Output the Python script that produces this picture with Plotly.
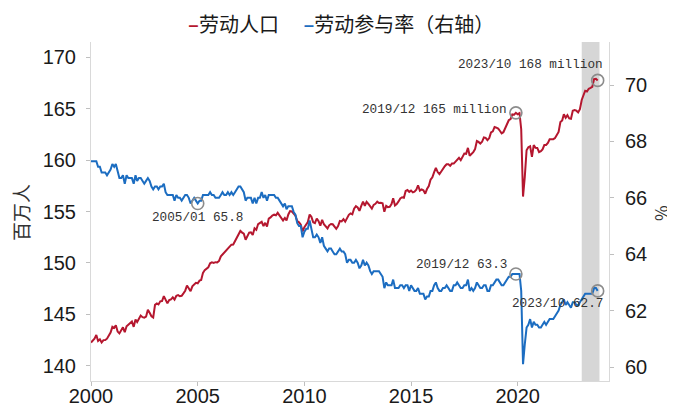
import pandas as pd
import plotly.graph_objects as go

# ---------------- data (monthly, 2000/01 - 2023/10) ----------------
labor_force = [  # 百万人
    142.27, 142.46, 142.65, 143.00, 142.43, 142.59, 142.28, 142.51, 142.52, 142.65, 142.90, 143.25,
    143.80, 143.70, 143.95, 143.34, 143.16, 143.45, 143.75, 143.28, 143.85, 144.01, 144.19, 144.31,
    143.80, 144.51, 144.27, 144.63, 144.89, 144.74, 144.69, 144.80, 145.45, 145.16, 144.83, 144.71,
    145.93, 146.07, 145.98, 146.28, 146.31, 146.78, 146.35, 146.08, 146.41, 146.47, 146.66, 146.44,
    146.82, 146.88, 146.77, 146.81, 147.05, 147.31, 147.81, 147.57, 147.26, 147.73, 147.96, 148.07,
    148.03, 148.29, 148.35, 149.04, 149.31, 149.41, 149.58, 149.97, 150.06, 150.01, 150.08, 150.06,
    150.20, 150.64, 150.81, 150.94, 151.14, 151.41, 151.56, 151.78, 151.79, 152.10, 152.45, 152.73,
    153.11, 152.95, 152.84, 152.26, 152.60, 152.95, 152.97, 152.72, 153.37, 153.22, 153.78, 153.87,
    154.00, 153.58, 153.90, 153.55, 154.31, 154.42, 154.61, 154.69, 154.63, 154.87, 154.60, 154.45,
    154.13, 154.37, 154.12, 154.71, 155.04, 155.00, 154.76, 154.59, 154.06, 153.95, 153.73, 153.06,
    153.48, 153.71, 153.98, 154.70, 154.48, 153.96, 153.87, 154.32, 154.06, 153.62, 154.20, 153.76,
    153.49, 153.35, 153.66, 153.79, 153.76, 153.53, 153.32, 153.58, 154.08, 154.04, 154.25, 154.01,
    154.34, 154.68, 154.82, 154.72, 155.28, 155.52, 155.39, 155.07, 155.54, 155.96, 155.56, 155.93,
    155.73, 155.54, 155.28, 155.64, 155.75, 155.96, 155.82, 155.84, 155.80, 154.98, 155.55, 155.43,
    155.46, 155.72, 156.28, 155.59, 155.72, 155.98, 156.26, 156.38, 156.33, 156.99, 157.09, 156.90,
    157.03, 156.86, 156.93, 157.11, 157.55, 157.03, 157.15, 157.06, 156.73, 157.18, 157.47, 158.08,
    158.32, 158.82, 159.23, 158.83, 158.63, 158.89, 159.21, 159.40, 159.58, 159.59, 159.44, 159.65,
    159.65, 159.85, 160.05, 160.21, 159.99, 160.28, 160.62, 160.60, 161.18, 160.41, 160.60, 160.76,
    161.06, 161.85, 161.76, 161.60, 161.77, 162.19, 162.15, 161.93, 162.13, 162.67, 162.78, 163.21,
    163.14, 163.05, 162.84, 162.59, 162.70, 163.15, 163.46, 163.86, 163.98, 164.43, 164.40, 164.58,
    164.45, 164.55, 162.99, 156.45, 158.34, 160.95, 161.24, 161.34, 160.30, 161.45, 161.19, 161.17,
    160.77, 160.85, 161.03, 161.45, 161.46, 161.66, 162.01, 162.04, 162.02, 162.13, 162.45, 162.72,
    163.69, 163.85, 164.44, 164.10, 164.36, 164.04, 164.00, 164.79, 164.86, 164.79, 164.62, 164.93,
    165.83, 166.25, 166.73, 166.66, 166.92, 167.00, 167.11, 167.86, 167.89, 167.73,
]

participation = [  # %
    67.3, 67.3, 67.3, 67.3, 67.1, 67.1, 66.9, 66.9, 66.9, 66.8, 66.9, 67.0,
    67.2, 67.1, 67.2, 66.9, 66.7, 66.7, 66.8, 66.5, 66.8, 66.7, 66.7, 66.7,
    66.5, 66.8, 66.6, 66.7, 66.7, 66.6, 66.5, 66.6, 66.7, 66.6, 66.4, 66.3,
    66.4, 66.4, 66.3, 66.4, 66.4, 66.5, 66.2, 66.1, 66.1, 66.1, 66.1, 65.9,
    66.1, 66.0, 66.0, 65.9, 66.0, 66.1, 66.1, 66.0, 65.8, 65.9, 66.0, 65.9,
    65.8, 65.9, 65.9, 66.1, 66.1, 66.1, 66.1, 66.2, 66.1, 66.1, 66.0, 66.0,
    66.0, 66.1, 66.2, 66.1, 66.1, 66.2, 66.1, 66.2, 66.1, 66.2, 66.3, 66.4,
    66.4, 66.3, 66.2, 65.9, 66.0, 66.0, 66.0, 65.8, 66.0, 65.8, 66.0, 66.0,
    66.2, 66.0, 66.1, 65.9, 66.1, 66.1, 66.1, 66.1, 66.0, 66.0, 65.9, 65.8,
    65.7, 65.8, 65.6, 65.7, 65.7, 65.7, 65.5, 65.4, 65.1, 65.0, 65.0, 64.6,
    64.8, 64.9, 64.9, 65.2, 64.9, 64.6, 64.6, 64.7, 64.6, 64.4, 64.6, 64.3,
    64.2, 64.1, 64.2, 64.2, 64.1, 64.0, 64.0, 64.1, 64.2, 64.1, 64.1, 64.0,
    63.7, 63.8, 63.8, 63.7, 63.7, 63.8, 63.7, 63.5, 63.6, 63.8, 63.6, 63.7,
    63.6, 63.4, 63.3, 63.4, 63.4, 63.4, 63.4, 63.3, 63.2, 62.8, 63.0, 62.9,
    62.9, 62.9, 63.1, 62.8, 62.8, 62.8, 62.9, 62.9, 62.8, 62.9, 62.9, 62.7,
    62.9, 62.8, 62.7, 62.7, 62.8, 62.6, 62.6, 62.6, 62.4, 62.5, 62.5, 62.7,
    62.7, 62.9, 63.0, 62.8, 62.7, 62.7, 62.8, 62.8, 62.9, 62.8, 62.7, 62.7,
    62.9, 62.9, 63.0, 62.9, 62.8, 62.8, 62.9, 62.9, 63.1, 62.7, 62.8, 62.7,
    62.8, 63.0, 62.9, 62.8, 62.8, 62.9, 62.9, 62.7, 62.7, 62.9, 62.9, 63.0,
    63.1, 63.1, 63.0, 62.9, 62.9, 63.0, 63.1, 63.2, 63.2, 63.3, 63.3, 63.3,
    63.3, 63.3, 62.7, 60.1, 60.8, 61.4, 61.5, 61.7, 61.4, 61.6, 61.5, 61.5,
    61.4, 61.4, 61.5, 61.6, 61.5, 61.6, 61.7, 61.7, 61.7, 61.8, 61.9, 62.0,
    62.2, 62.3, 62.4, 62.2, 62.3, 62.2, 62.1, 62.3, 62.3, 62.2, 62.2, 62.3,
    62.4, 62.5, 62.6, 62.6, 62.6, 62.6, 62.6, 62.8, 62.8, 62.7,
]

series_names = ["劳动人口", "劳动参与率（右轴）"]
x_tick_years = ["2000", "2005", "2010", "2015", "2020"]
shade_period = ["2023-01-01", "2023-11-01"]

# highlighted points
lf_note_dates = ["2019-12-01", "2023-10-01"]
lf_note_labels = ["2019/12 165 million", "2023/10 168 million"]
pr_note_dates = ["2005-01-01", "2019-12-01", "2023-10-01"]
pr_note_labels = ["2005/01 65.8", "2019/12 63.3", "2023/10 62.7"]

# ---------------- styling ----------------
RED = "#B5172F"
BLUE = "#1C6DC1"
AXIS = "#D9D9D9"
TXT = "#1A1A1A"
NUM_FONT = "Liberation Sans, Arial, sans-serif"
CJK_FONT = "Noto Sans CJK SC"
MONO_FONT = "Liberation Mono, monospace"

months = pd.date_range("2000-01-01", periods=len(labor_force), freq="MS")
lf = pd.Series(labor_force, index=months)
pr = pd.Series(participation, index=months)

fig = go.Figure()
fig.add_trace(go.Scatter(x=months, y=labor_force, mode="lines", name=series_names[0],
                         line=dict(color=RED, width=2), yaxis="y", showlegend=False))
fig.add_trace(go.Scatter(x=months, y=participation, mode="lines", name=series_names[1],
                         line=dict(color=BLUE, width=2), yaxis="y2", showlegend=False))

circle = dict(symbol="circle-open", size=12, color="#8C8C8C", line=dict(width=1.6, color="#8C8C8C"))
lf_dates = pd.to_datetime(lf_note_dates)
pr_dates = pd.to_datetime(pr_note_dates)
fig.add_trace(go.Scatter(x=lf_dates, y=lf.loc[lf_dates].values, mode="markers",
                         marker=circle, yaxis="y", showlegend=False, hoverinfo="skip"))
fig.add_trace(go.Scatter(x=pr_dates, y=pr.loc[pr_dates].values, mode="markers",
                         marker=circle, yaxis="y2", showlegend=False, hoverinfo="skip"))

fig.add_shape(type="rect", xref="x", yref="paper", x0=shade_period[0], x1=shade_period[1],
              y0=0, y1=1, fillcolor="#D6D6D6", line=dict(width=0), layer="below")

note_font = dict(family=MONO_FONT, size=12.7, color="#333333")
anns = []
offsets_lf = [dict(xanchor="right", yanchor="middle", xshift=-7, yshift=3),
              dict(xanchor="right", yanchor="middle", xshift=7, yshift=16)]
for d, lab, off in zip(lf_dates, lf_note_labels, offsets_lf):
    anns.append(dict(x=d, y=lf.loc[d], xref="x", yref="y", text=lab, showarrow=False,
                     font=note_font, **off))
offsets_pr = [dict(xanchor="center", yanchor="middle", xshift=0, yshift=-14),
              dict(xanchor="right", yanchor="middle", xshift=-7, yshift=9),
              dict(xanchor="right", yanchor="middle", xshift=7, yshift=-13)]
for d, lab, off in zip(pr_dates, pr_note_labels, offsets_pr):
    anns.append(dict(x=d, y=pr.loc[d], xref="x", yref="y2", text=lab, showarrow=False,
                     font=note_font, **off))

# legend (custom, short dash markers), placed at the very top of the figure
legend_text = (f'<span style="color:{RED}"><b>–</b></span>{series_names[0]}　 '
               f'<span style="color:{BLUE}"><b>–</b></span>{series_names[1]}')
anns.append(dict(x=0.4826, y=1 + 34 / 339, xref="paper", yref="paper", text=legend_text,
                 showarrow=False, xanchor="center", yanchor="top", borderpad=0,
                 font=dict(family=CJK_FONT, size=20, color=TXT)))
# axis titles
anns.append(dict(x=-0.1351, y=0.4956, xref="paper", yref="paper", text="百万人", textangle=-90,
                 showarrow=False, xanchor="center", yanchor="middle", borderpad=0,
                 font=dict(family=CJK_FONT, size=19, color="#333333")))
anns.append(dict(x=1.1004, y=0.4956, xref="paper", yref="paper", text="%", textangle=-90,
                 showarrow=False, xanchor="center", yanchor="middle", borderpad=0,
                 font=dict(family=CJK_FONT, size=17, color="#333333")))

axis_common = dict(showline=True, linecolor=AXIS, linewidth=1, showgrid=False, zeroline=False,
                   ticks="outside", ticklen=4, tickcolor="#BFBFBF", automargin=False,
                   tickfont=dict(family=NUM_FONT, size=20, color=TXT))

# page body has an 8px margin: size the figure so that it fits the 675x410 window
fig.update_layout(
    width=667, height=402,
    margin=dict(l=83, r=66, t=34, b=29),
    plot_bgcolor="white", paper_bgcolor="white",
    showlegend=False,
    annotations=anns,
    xaxis=dict(type="date", range=["2000-01-01", "2024-04-12"],
               tickvals=[f"{y}-01-01" for y in x_tick_years], ticktext=x_tick_years,
               ticklabelstandoff=-7, **axis_common),
    yaxis=dict(range=[138.54, 171.46], tick0=140, dtick=5, ticklabelstandoff=6, **axis_common),
    yaxis2=dict(range=[59.505, 71.525], tick0=60, dtick=2, overlaying="y", side="right",
                ticklabelstandoff=7, **axis_common),
)

fig.write_html("out.html")
